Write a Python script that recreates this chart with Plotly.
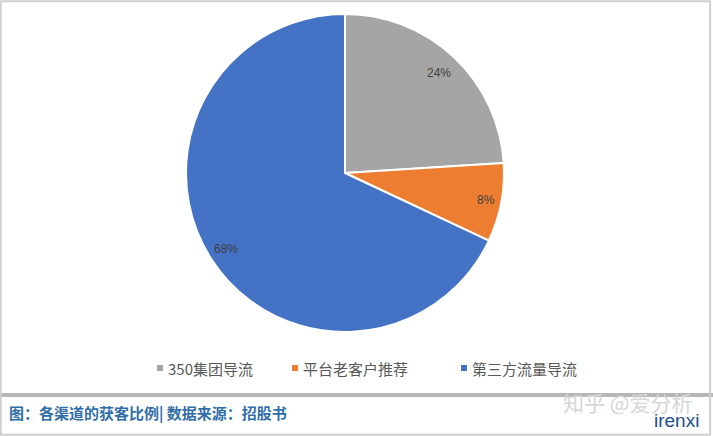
import math
import plotly.graph_objects as go

# ---- data ----
categories = ["350集团导流", "平台老客户推荐", "第三方流量导流"]
values = [24, 8, 68]
value_labels = ["24%", "8%", "68%"]
colors = ["#a5a5a5", "#ed7d31", "#4472c4"]

caption = "图：各渠道的获客比例| 数据来源：招股书"
watermark = "知乎 @爱分析"
logo = "irenxi"

W, H = 713, 436

# pie geometry in pixels (styling)
cx_px, cy_px, r_px = 345, 173, 159
label_radius = [0.86, 0.905, 0.89]

def px_x(x):
    return x / W

def px_y(y):
    return 1 - y / H

fig = go.Figure()
fig.add_trace(go.Pie(
    labels=categories,
    values=values,
    marker=dict(colors=colors, line=dict(color="white", width=2)),
    sort=False,
    direction="clockwise",
    rotation=0,
    textinfo="none",
    hoverinfo="label+percent",
    showlegend=False,
    domain=dict(x=[px_x(cx_px - r_px), px_x(cx_px + r_px)],
                y=[px_y(cy_px + r_px), px_y(cy_px - r_px)]),
))

annotations = []
total = sum(values)
cum = 0
for v, lab, f in zip(values, value_labels, label_radius):
    mid = (cum + v / 2) / total * 2 * math.pi
    cum += v
    lx = cx_px + f * r_px * math.sin(mid)
    ly = cy_px - f * r_px * math.cos(mid)
    annotations.append(dict(
        x=px_x(lx), y=px_y(ly), xref="paper", yref="paper",
        text=lab, showarrow=False, xanchor="center", yanchor="middle",
        font=dict(family="Liberation Sans, Arial", size=12, color="#404040"),
    ))

shapes = []
# manual legend
legend_x = [157, 292, 461]
legend_y = 368
for cat, col, lx in zip(categories, colors, legend_x):
    shapes.append(dict(type="rect", xref="paper", yref="paper",
                       x0=px_x(lx), x1=px_x(lx + 6),
                       y0=px_y(legend_y + 3), y1=px_y(legend_y - 3),
                       fillcolor=col, line=dict(width=0)))
    annotations.append(dict(
        x=px_x(lx + 9), y=px_y(legend_y), xref="paper", yref="paper",
        text=cat, showarrow=False, xanchor="left", yanchor="middle",
        font=dict(family="Noto Sans CJK SC", size=15, color="#595959"),
    ))

# separator bar
shapes.append(dict(type="rect", xref="paper", yref="paper",
                   x0=0, x1=1, y0=px_y(397), y1=px_y(393),
                   fillcolor="#b3b7ba", line=dict(width=0)))
# outer frame
shapes.append(dict(type="rect", xref="paper", yref="paper",
                   x0=0.001, x1=0.996, y0=0.003, y1=0.997,
                   line=dict(color="#cfcfcf", width=2)))

# caption
annotations.append(dict(
    x=px_x(7), y=px_y(413), xref="paper", yref="paper",
    text="<b>" + caption + "</b>", showarrow=False, xanchor="left", yanchor="middle",
    font=dict(family="Noto Sans CJK SC", size=15, color="#2f6ea6"),
))
# watermark
annotations.append(dict(
    x=px_x(628), y=px_y(402), xref="paper", yref="paper",
    text=watermark, showarrow=False, xanchor="center", yanchor="middle",
    font=dict(family="Noto Sans CJK SC", size=21, color="#d6d6d6"),
))
annotations.append(dict(
    x=px_x(676), y=px_y(420), xref="paper", yref="paper",
    text=logo, showarrow=False, xanchor="center", yanchor="middle",
    font=dict(family="Liberation Sans, Arial", size=19, color="#1f4e8c"),
))

fig.update_layout(
    width=W, height=H,
    margin=dict(l=0, r=0, t=0, b=0),
    paper_bgcolor="white",
    plot_bgcolor="white",
    shapes=shapes,
    annotations=annotations,
)

fig.write_html(
    "out.html",
    config={"displayModeBar": False},
    post_script="document.body.style.margin='0';document.body.style.overflow='hidden';",
)
